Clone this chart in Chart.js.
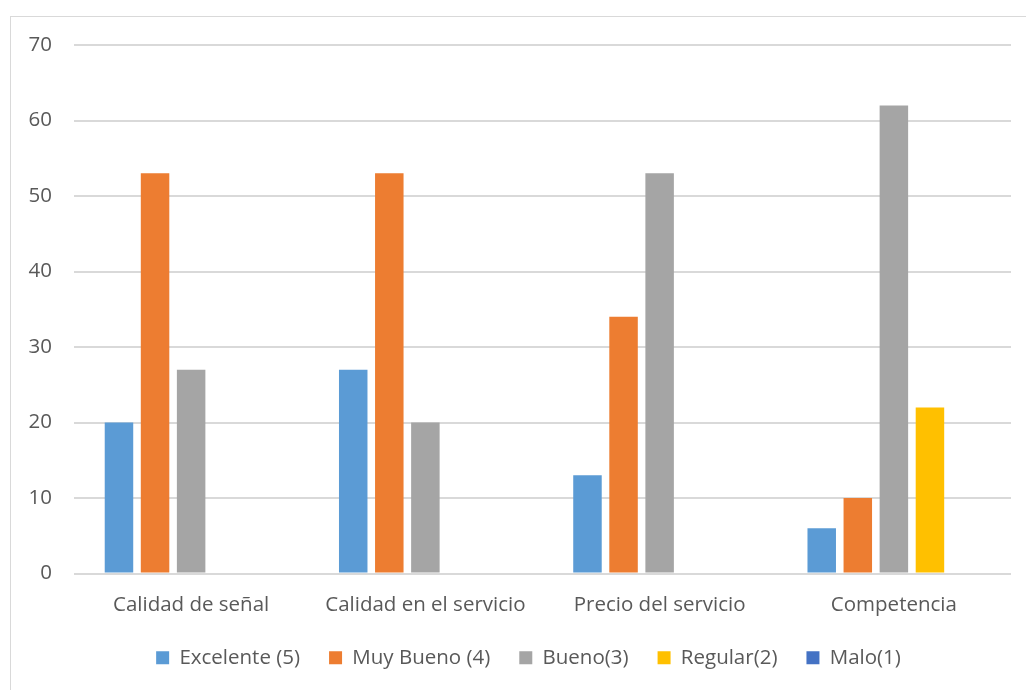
<!DOCTYPE html>
<html>
<head>
<meta charset="utf-8">
<script src="https://cdn.jsdelivr.net/npm/chart.js@4"></script>
<style>
    html, body { margin: 0; padding: 0; background: #fff; overflow: hidden; }
    #frame {
        position: absolute; left: 10px; top: 16px; width: 1030px; height: 700px;
        border-left: 1px solid #d9d9d9; border-top: 1px solid #d9d9d9;
    }
    #wrap { position: absolute; left: 0; top: 0; width: 1026px; height: 690px; }
</style>
</head>
<body>
<div id="frame"></div>
<div id="wrap"><canvas id="chart"></canvas></div>
<script>
const categories = ["Calidad de señal", "Calidad en el servicio", "Precio del servicio", "Competencia"];

const excelente = [20, 27, 13, 6];
const muyBueno = [53, 53, 34, 10];
const bueno = [27, 20, 53, 62];
const regular = [0, 0, 0, 22];
const malo = [0, 0, 0, 0];

const yTicks = [0, 10, 20, 30, 40, 50, 60, 70];

const FONT = "'Open Sans', 'Liberation Sans', sans-serif";
const TEXT = '#595959';

function series(label, data, color) {
    return {
        label: label,
        data: data,
        backgroundColor: color,
        borderWidth: 0,
        barPercentage: 0.79,
        categoryPercentage: 0.77
    };
}

// nudge the legend row to the right so it sits under the plot
const legendShift = {
    id: 'legendShift',
    afterLayout(chart) {
        if (chart.legend) {
            chart.legend.left += 23;
            chart.legend.right += 23;
        }
    }
};

const ctx = document.getElementById('chart').getContext('2d');

new Chart(ctx, {
    type: 'bar',
    data: {
        labels: categories,
        datasets: [
            series('Excelente (5)', excelente, '#5b9bd5'),
            series('Muy Bueno (4)', muyBueno, '#ed7d31'),
            series('Bueno(3)', bueno, '#a5a5a5'),
            series('Regular(2)', regular, '#ffc000'),
            series('Malo(1)', malo, '#4472c4')
        ]
    },
    plugins: [legendShift],
    options: {
        responsive: true,
        maintainAspectRatio: false,
        animation: false,
        layout: { padding: { top: 45, right: 15, left: 0, bottom: 12 } },
        plugins: {
            tooltip: { enabled: false },
            legend: {
                position: 'bottom',
                labels: {
                    boxWidth: 13,
                    boxHeight: 13,
                    padding: 29,
                    color: TEXT,
                    font: { family: FONT, size: 20.5 }
                }
            }
        },
        scales: {
            x: {
                grid: { display: false, drawTicks: false },
                border: { display: false },
                ticks: {
                    color: TEXT,
                    padding: 19,
                    font: { family: FONT, size: 20.5 }
                },
                afterFit: (scale) => { scale.height = 45; }
            },
            y: {
                min: 0,
                max: 70,
                afterBuildTicks: (scale) => { scale.ticks = yTicks.map(v => ({ value: v })); },
                grid: { color: '#d9d9d9', lineWidth: 2, drawTicks: false },
                border: { display: false },
                ticks: {
                    color: TEXT,
                    padding: 22,
                    font: { family: FONT, size: 20.5 }
                },
                afterFit: (scale) => { scale.width = 74; }
            }
        }
    }
});
</script>
</body>
</html>
